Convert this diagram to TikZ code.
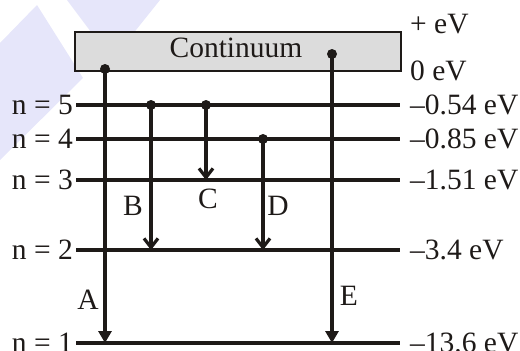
\documentclass[tikz,border=0pt]{standalone}
\usepackage{fontspec}
\setmainfont{Liberation Serif}
\usetikzlibrary{arrows.meta}
\definecolor{ink}{RGB}{30,26,24}
\definecolor{boxgray}{RGB}{220,220,220}
\definecolor{wm}{RGB}{230,230,250}
\tikzset{
  level/.style={line width=3.4pt,draw=ink},
  lbl/.style={font=\fontsize{29.5}{31}\selectfont,text=ink,inner sep=0pt},
  fullarrow/.style={line width=3.2pt,draw=ink,-{Triangle[length=12pt,width=13pt]}},
  openarrow/.style={line width=3.2pt,draw=ink,-{Straight Barb[length=9pt,width=14pt]}},
  dot/.style={circle,fill=ink,inner sep=0pt,minimum size=10pt}
}
\begin{document}
\begin{tikzpicture}[x=1pt,y=-1pt]
\useasboundingbox (0,0) rectangle (520,351);
% watermark
\fill[wm] (37,5) -- (83,78) -- (0,160) -- (0,43) -- cycle;
\fill[wm] (67,0) -- (160,0) -- (112,60) -- cycle;
% continuum box
\node[draw=ink,line width=2.8pt,fill=boxgray,minimum width=326pt,minimum height=39pt,inner sep=0pt,anchor=north west] (box) at (73.5,30.5) {};
\node[lbl] (cont) at (236,48) {Continuum};
% levels
\foreach \n/\y/\e in {5/105/{--0.54 eV},4/139/{--0.85 eV},3/180/{--1.51 eV},2/250/{--3.4 eV},1/343/{--13.6 eV}}{
  \coordinate (L\n) at (76,\y);
  \coordinate (R\n) at (400,\y);
  \draw[level] (L\n) -- (R\n);
  \node[lbl,anchor=east] (nl\n) at (73,\y) {n = \n};
  \node[lbl,anchor=west] (el\n) at (410,\y) {\e};
}
\node[lbl,anchor=west] (plus) at (410,24) {+ eV};
\node[lbl,anchor=west] (zero) at (410,71) {0 eV};
% transition start/end points
\coordinate (a0) at (105,69);
\coordinate (a1) at (105,343);
\coordinate (b0) at (151,105);
\coordinate (b1) at (151,250);
\coordinate (c0) at (206,105);
\coordinate (c1) at (206,180);
\coordinate (d0) at (263,139);
\coordinate (d1) at (263,250);
\coordinate (e0) at (332,54);
\coordinate (e1) at (332,343);
\draw[fullarrow] (a0) -- (a1);
\draw[openarrow] (b0) -- (b1);
\draw[openarrow] (c0) -- (c1);
\draw[openarrow] (d0) -- (d1);
\draw[fullarrow] (e0) -- (e1);
\foreach \p in {a0,b0,c0,d0,e0} \node[dot] at (\p) {};
% labels
\node[lbl] (A) at (88,300) {A};
\node[lbl] (B) at (133,206) {B};
\node[lbl] (C) at (208,199) {C};
\node[lbl] (D) at (278,206) {D};
\node[lbl] (E) at (349,296) {E};
\end{tikzpicture}
\end{document}
